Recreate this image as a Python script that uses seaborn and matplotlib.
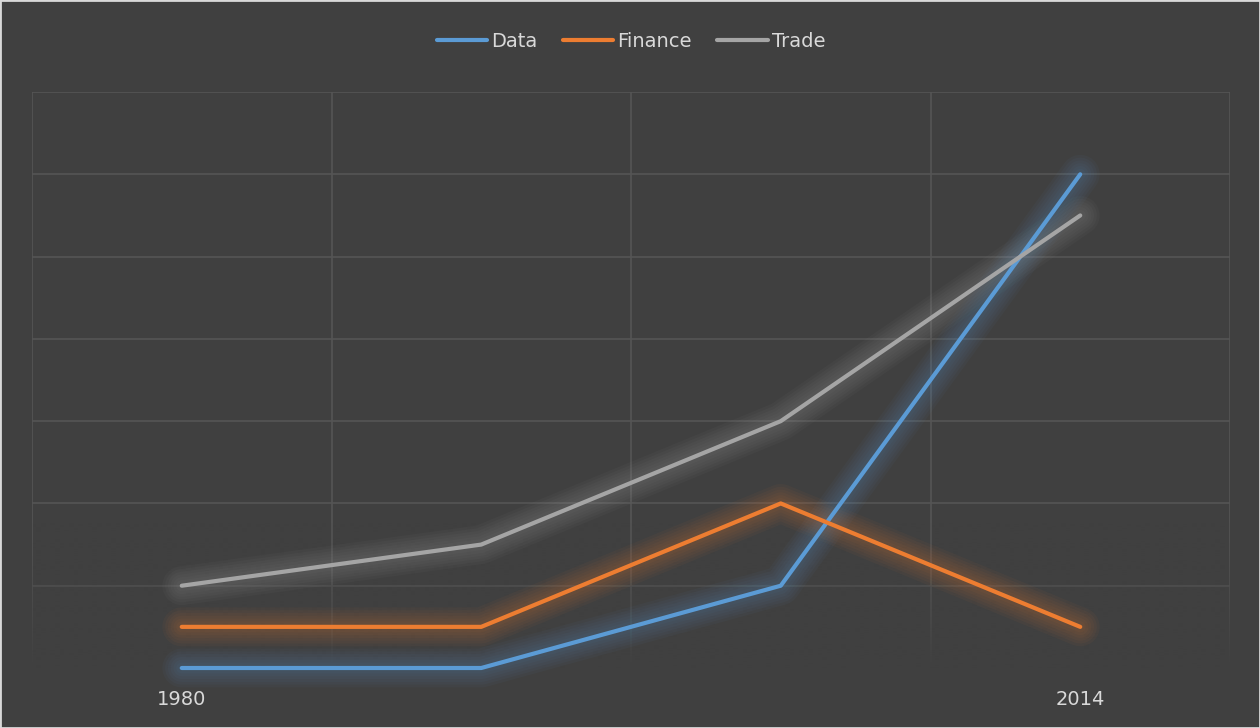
import matplotlib.pyplot as plt
import seaborn as sns
import numpy as np
import pandas as pd
from matplotlib.colors import to_rgb
from matplotlib.patches import Rectangle

# values (one grid step = 1 unit)
year_labels = ["1980", "", "", "2014"]
data_vals = [0.0, 0.0, 1.0, 6.0]
finance_vals = [0.5, 0.5, 2.0, 0.5]
trade_vals = [1.0, 1.5, 3.0, 5.5]

series_names = ["Data", "Finance", "Trade"]
colors = {"Data": "#5B9BD5", "Finance": "#ED7D31", "Trade": "#A5A5A5"}
bg = "#404040"
text_col = "#D9D9D9"

df = pd.DataFrame({
    "pos": list(range(len(year_labels))) * 3,
    "value": data_vals + finance_vals + trade_vals,
    "series": ["Data"] * 4 + ["Finance"] * 4 + ["Trade"] * 4,
})

sns.set_theme(style="dark")
plt.rcParams["font.family"] = ["DejaVu Sans"]

fig = plt.figure(figsize=(12.6, 7.28), dpi=100, facecolor=bg)
ax = fig.add_axes([32 / 1260, 60 / 728, 1198 / 1260, 576 / 728])
ax.set_facecolor(bg)

# soft glow under each line (Excel-style)
for lw in [28, 24, 20, 16, 12, 8]:
    sns.lineplot(data=df, x="pos", y="value", hue="series", palette=colors,
                 hue_order=series_names, linewidth=lw, alpha=0.045, legend=False,
                 ax=ax, zorder=2, solid_capstyle="round")

sns.lineplot(data=df, x="pos", y="value", hue="series", palette=colors,
             hue_order=series_names, linewidth=3, ax=ax, zorder=3,
             solid_capstyle="round")
for line in ax.lines:
    line.set_clip_on(False)

ax.set_xlim(-0.5, len(year_labels) - 0.5)
ax.set_ylim(0, 7)
ax.set_yticks(np.arange(0, 8))
ax.set_yticklabels([])
ax.set_xticks(np.arange(-0.5, len(year_labels), 1.0), minor=False)
ax.set_xticklabels([])
ax.set_xticks(np.arange(len(year_labels)), minor=True)
ax.set_xticklabels(year_labels, minor=True, color=text_col, fontsize=14)
ax.tick_params(axis="x", which="both", length=0, pad=16)
ax.tick_params(axis="y", length=0)
ax.grid(True, which="major", color="#555555", linewidth=1.2, zorder=0)
ax.set_xlabel("")
ax.set_ylabel("")
for s in ax.spines.values():
    s.set_visible(False)

# gridlines fade out toward the bottom
grad = np.zeros((100, 1, 4))
grad[..., :3] = to_rgb(bg)
grad[:, 0, 3] = np.linspace(0, 1, 100) ** 1.5
ax.imshow(grad, extent=[-0.5, len(year_labels) - 0.5, 0, 1.8], aspect="auto",
          origin="upper", zorder=1, interpolation="bilinear")
ax.set_xlim(-0.5, len(year_labels) - 0.5)
ax.set_ylim(0, 7)

leg = ax.legend(loc="upper center", bbox_to_anchor=(0.5, 1.135), ncol=3,
                frameon=False, fontsize=14, handlelength=2.6,
                handletextpad=0.2, columnspacing=1.3, labelcolor=text_col)
for line in leg.get_lines():
    line.set_linewidth(3)
    line.set_alpha(1)

fig.patches.append(Rectangle((0, 0), 1, 1, transform=fig.transFigure,
                             fill=False, edgecolor="#D9D9D9", linewidth=2))

fig.savefig("out.png", dpi=100, facecolor=bg)
